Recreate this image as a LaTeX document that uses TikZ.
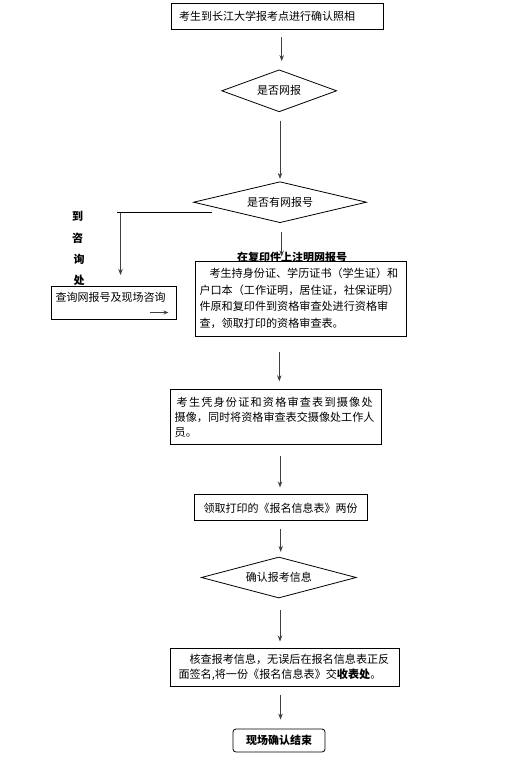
\documentclass[tikz,border=0pt]{standalone}
\usepackage{fontspec}
\setmainfont{Noto Sans CJK SC}
\usetikzlibrary{shapes.geometric,arrows.meta}
\tikzset{
  box/.style={draw, line width=0.8pt, fill=white, rectangle, inner ysep=0pt, font=\fontsize{11}{15}\selectfont},
  dia/.style={draw, line width=0.8pt, diamond, inner sep=0pt, font=\fontsize{11}{15}\selectfont},
  arr/.style={-{Stealth[length=6pt,width=4.5pt]}, line width=0.8pt, draw=black!75},
  plain/.style={line width=0.8pt},
  lbl/.style={font=\bfseries\fontsize{11}{13}\selectfont, inner sep=0pt},
}
\begin{document}
\begin{tikzpicture}[x=1pt,y=-1pt]
\useasboundingbox (0,0) rectangle (506,763);

% main column
\node[box, minimum width=212pt, minimum height=26pt, text width=196pt, inner xsep=8pt, align=left] (b1) at (277,16.7) {考生到长江大学报考点进行确认照相};
\node[dia, aspect=2.74, minimum width=115pt, minimum height=42pt] (d1) at (279.2,90.8) {是否网报};
\node[dia, aspect=4.22, minimum width=173pt, minimum height=41pt] (d2) at (280,202.2) {是否有网报号};

\node[lbl] (note) at (292,257) {在复印件上注明网报号};

\node[box, minimum width=211pt, minimum height=75pt, text width=203pt, inner xsep=4pt, align=left, font=\fontsize{11.1}{16.8}\selectfont] (b3) at (301,298.4)
  {\hspace*{10pt}考生持身份证、学历证书（学生证）和\\户口本（工作证明，居住证，社保证明）\\件原和复印件到资格审查处进行资格审\\查，领取打印的资格审查表。};

\node[box, minimum width=211pt, minimum height=55pt, text width=203pt, inner xsep=4pt, align=left, font=\fontsize{11.1}{15}\selectfont] (b4) at (276.2,416.8)
  {\hspace*{2pt}{\addfontfeature{LetterSpace=11}考生凭身份证和资格审查表到摄像处}\\摄像，同时将资格审查表交摄像处工作人\\员。};

\node[box, minimum width=173pt, minimum height=26pt, inner xsep=0pt] (b5) at (280.5,507.8) {领取打印的《报名信息表》两份};
\node[dia, aspect=3.78, minimum width=155pt, minimum height=41pt] (d3) at (278.8,577.5) {确认报考信息};

\node[box, minimum width=229pt, minimum height=38pt, text width=213pt, inner xsep=8pt, align=left, font=\fontsize{11.1}{15}\selectfont] (b6) at (285,667.5)
  {\hspace*{11pt}核查报考信息，无误后在报名信息表正反\\面签名,将一份《报名信息表》交{\bfseries 收表处}。};

\node[box, rounded corners=3pt, minimum width=92pt, minimum height=23pt, inner xsep=0pt, font=\bfseries\fontsize{11}{13}\selectfont] (b7) at (279,740.5) {现场确认结束};

% left branch
\node[box, minimum width=125pt, minimum height=33pt, text width=117pt, inner xsep=4pt, align=left, anchor=north west] (b2) at (51.3,286) {\raisebox{0pt}[11pt][0pt]{查询网报号及现场咨询}\\[-2pt]\mbox{}};
\node[lbl] (t1) at (77.5,216) {到};
\node[lbl] (t2) at (77.5,238.5) {咨};
\node[lbl] (t3) at (79,259.5) {询};
\node[lbl] (t4) at (79,280) {处};

\coordinate (h1) at (212.3,212.3);
\coordinate (h2) at (117,212.3);
\coordinate (v1) at (120.5,213.3);
\coordinate (s1) at (150,312.5);
\coordinate (s2) at (168.5,312.5);

% connectors
\draw[arr, shorten <=6.7pt, shorten >=8.3pt] (b1.south -| 281.7,0) -- (d1.north -| 281.7,0);
\draw[arr, shorten <=8.5pt, shorten >=2.4pt] (d1.south -| 280,0) -- (d2.north -| 280,0);
\draw[arr, shorten <=9pt, shorten >=4pt] (d2.south -| 281.7,0) -- (b3.north -| 281.7,0);
\draw[arr, shorten <=16pt, shorten >=7.6pt] (b3.south -| 279.3,0) -- (b4.north -| 279.3,0);
\draw[arr, shorten <=11.7pt, shorten >=7pt] (b4.south -| 280,0) -- (b5.north -| 280,0);
\draw[arr, shorten <=7.6pt, shorten >=4.7pt] (b5.south -| 280.7,0) -- (d3.north -| 280.7,0);
\draw[arr, shorten <=12pt, shorten >=6.6pt] (d3.south -| 280,0) -- (b6.north -| 280,0);
\draw[arr, shorten <=8.3pt, shorten >=9pt] (b6.south -| 280.5,0) -- (b7.north -| 280.5,0);

\draw[plain] (h1) -- (h2);
\draw[arr, shorten >=11pt] (v1) -- (b2.north -| v1);
\draw[arr, -{Stealth[length=5pt,width=4pt]}] (s1) -- (s2);

\end{tikzpicture}
\end{document}
